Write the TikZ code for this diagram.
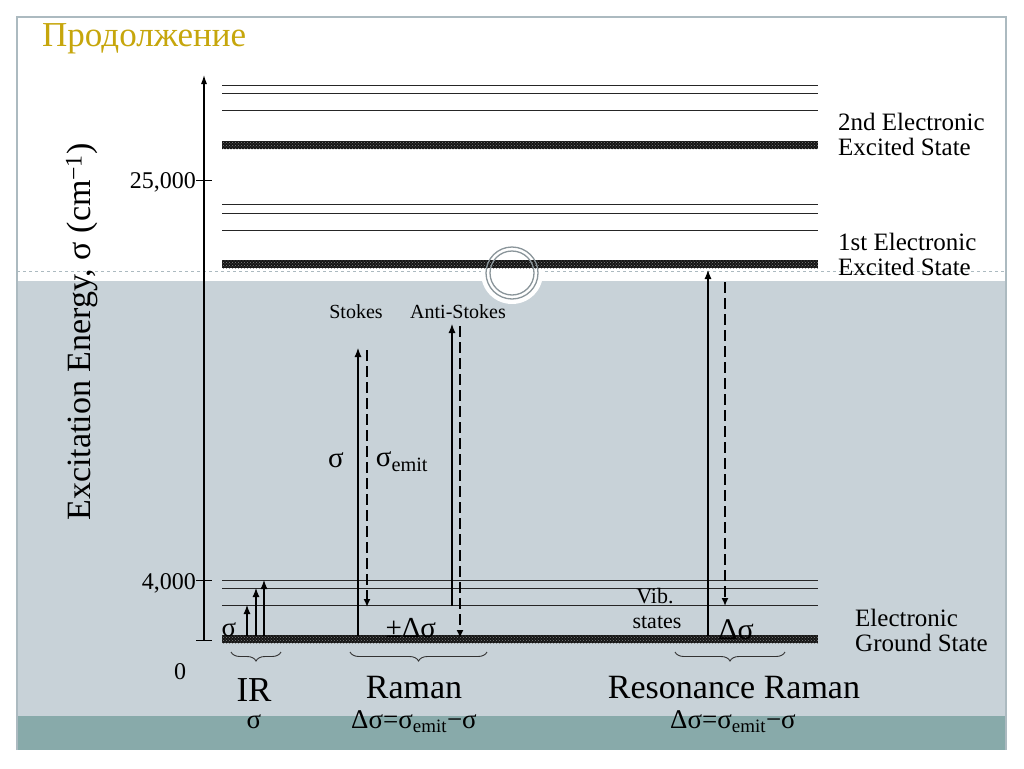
\documentclass[tikz,border=0pt]{standalone}
\usepackage{fontspec}
\setmainfont{Liberation Serif}
\usetikzlibrary{arrows.meta,patterns,decorations.pathreplacing}
\definecolor{slidegray}{RGB}{200,210,216}
\definecolor{slideteal}{RGB}{136,170,170}
\definecolor{titlegold}{RGB}{198,166,12}
\definecolor{framegray}{RGB}{172,186,192}
\newcommand{\band}[1]% y of an electronic level
{\fill[black!92] (222,#1-4) rectangle (818,#1+4);
\fill[pattern=crosshatch dots, pattern color=black!50] (222,#1-4) rectangle (818,#1+4);
}
\newcommand{\vib}[1]% y of a vibrational level
{\draw[line width=0.9pt, black!85] (222,#1) -- (818,#1);
}
\newcommand{\fs}[1]{\fontsize{#1}{#1}\selectfont}
\tikzset{
	absorb/.style={-{Latex[length=9pt,width=7pt]}, line width=1.1pt},
	emit/.style={-{Latex[length=8pt,width=7pt]}, line width=2pt, dash pattern=on 11pt off 5pt},
	lab/.style={inner sep=0pt},
	underbrace/.style={decorate, decoration={brace, mirror, amplitude=9pt}, line width=0.9pt, black!80}
}

\begin{document}
\begin{tikzpicture}[x=1pt,y=-1pt]
	\useasboundingbox (0,0) rectangle (1024,768);
	\fill[slidegray] (17,281) rectangle (1006,716);
	\fill[slideteal] (17,716) rectangle (1006,750);
	\draw[framegray, dashed, line width=1pt] (17,271) -- (1006,271);
	\fill[white] (512,273) circle (31);
	\draw[framegray, line width=1.2pt] (17,750) -- (17,17) -- (1006,17) -- (1006,750);
	\node[lab, anchor=base west, text=titlegold] (title) at (42,46) {\fs{35}Продолжение};
	% levels
	\vib{85}\vib{93}\vib{110}
	\band{145}%2nd
	\vib{204}\vib{213}\vib{230}
	\band{264}%1st
	\vib{580}\vib{588}\vib{605}
	\band{639}%ground
	\draw[framegray!80!black, line width=1.3pt] (512,273) circle (26) (512,273) circle (22);
	% axis
	\coordinate (ax0) at (204,640);
	\coordinate (ax1) at (204,75);
	\draw[-{Latex[length=9pt,width=6pt]}, line width=1.1pt] (ax0) -- (ax1);
	\draw[line width=1pt] (196,180) -- (212,180) (196,580) -- (212,580) (196,640) -- (212,640);
	\node[lab, anchor=east] (t25) at (196,182) {\fs{24}25,000};
	\node[lab, anchor=east] (t4) at (196,583) {\fs{24}4,000};
	\node[lab] (t0) at (180,672) {\fs{24}0};
	\node[lab, rotate=90] (ylab) at (82,332) {\fs{34}Excitation Energy, σ (cm\textsuperscript{−1})};
	\node[lab, anchor=west, align=left, font=\fs{25}] (exc2) at (838,134) {2nd Electronic\\Excited State};
	\node[lab, anchor=west, align=left, font=\fs{25}] (exc1) at (838,254) {1st Electronic\\Excited State};
	\node[lab, anchor=west, align=left, font=\fs{25}] (gnd) at (855,630) {Electronic\\Ground State};
	% IR
	\coordinate (ir1a) at (247,636); \coordinate (ir1b) at (247,605);
	\coordinate (ir2a) at (256,636); \coordinate (ir2b) at (256,588);
	\coordinate (ir3a) at (264,636); \coordinate (ir3b) at (264,580);
	\draw[absorb] (ir1a) -- (ir1b);
	\draw[absorb] (ir2a) -- (ir2b);
	\draw[absorb] (ir3a) -- (ir3b);
	\node[lab] (irsig) at (229,630) {\fs{27}σ};
	% Raman
	\coordinate (st0) at (358,636); \coordinate (st1) at (358,348);
	\coordinate (se0) at (367,350); \coordinate (se1) at (367,607);
	\coordinate (as0) at (452,606); \coordinate (as1) at (452,324);
	\coordinate (ae0) at (460,326); \coordinate (ae1) at (460,638);
	\draw[absorb] (st0) -- (st1);
	\draw[emit] (se0) -- (se1);
	\draw[absorb] (as0) -- (as1);
	\draw[emit] (ae0) -- (ae1);
	\node[lab] (stokes) at (356,312) {\fs{20}Stokes};
	\node[lab] (astokes) at (458,312) {\fs{20}Anti-Stokes};
	\node[lab] (sig) at (336,460) {\fs{29}σ};
	\node[lab] (sigem) at (402,462) {\fs{29}σ\textsubscript{emit}};
	\node[lab] (pm) at (411,628) {\fs{29}±Δσ};
	% resonance Raman
	\coordinate (rr0) at (708,636); \coordinate (rr1) at (708,270);
	\coordinate (re0) at (725,282); \coordinate (re1) at (725,606);
	\draw[absorb] (rr0) -- (rr1);
	\draw[emit] (re0) -- (re1);
	\node[lab] (vib) at (655,596) {\fs{22}Vib.};
	\node[lab] (states) at (657,622) {\fs{22}states};
	\node[lab] (rrd) at (736,630) {\fs{30}Δσ};
	% braces and names
	\draw[underbrace] (231,652) -- (281,652);
	\draw[underbrace] (350,652) -- (487,652);
	\draw[underbrace] (675,652) -- (785,652);
	\node[lab] (ir) at (254,690) {\fs{35}IR};
	\node[lab] (irf) at (254,722) {\fs{27}σ};
	\node[lab] (raman) at (414,688) {\fs{34}Raman};
	\node[lab] (ramanf) at (414,722) {\fs{27}Δσ=σ\textsubscript{emit}−σ};
	\node[lab] (res) at (734,688) {\fs{34}Resonance Raman};
	\node[lab] (resf) at (733,722) {\fs{27}Δσ=σ\textsubscript{emit}−σ};
\end{tikzpicture}
\end{document}
